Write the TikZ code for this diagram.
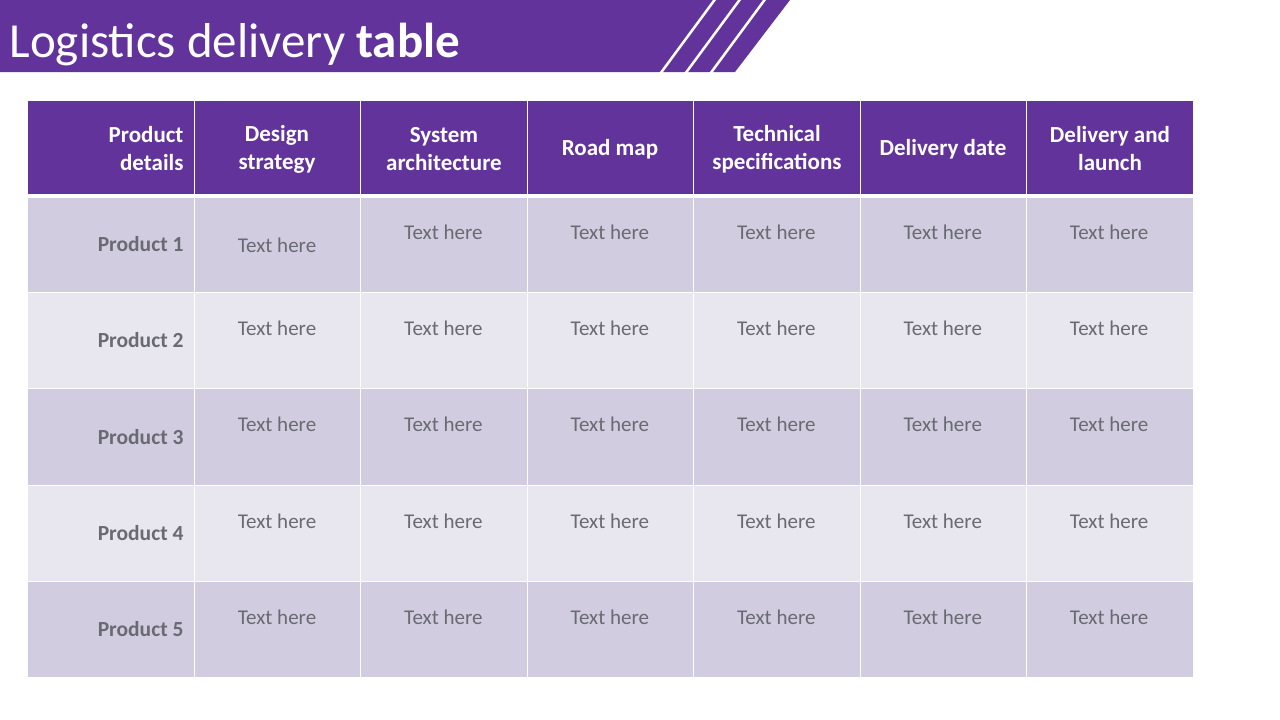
\documentclass[tikz,border=0pt]{standalone}
\usepackage{fontspec}
\setmainfont{Carlito}
\definecolor{pur}{HTML}{61339B}
\definecolor{rowA}{HTML}{D1CCE0}
\definecolor{rowB}{HTML}{E8E6EE}
\definecolor{txt}{HTML}{6A6A72}
\begin{document}
\begin{tikzpicture}[x=1pt,y=-1pt,
  hdr/.style={font=\fontsize{23}{28}\selectfont\bfseries,text=white,align=center},
  cell/.style={font=\fontsize{21}{24}\selectfont,text=txt},
  prod/.style={font=\fontsize{21.5}{24}\selectfont\bfseries,text=txt,anchor=east}]
\useasboundingbox (0,0) rectangle (1280,720);
\fill[white] (0,0) rectangle (1280,720);
% banner
\fill[pur] (0,0) -- (790,0) -- (735,72) -- (0,72) -- cycle;
\foreach \d in {0,25,50}{\draw[white,line width=2.5pt] (660+\d,74) -- (716+\d,-2);}
\fill[white] (0,74) rectangle (659,80);
\node[anchor=west,text=white,font=\fontsize{49}{54}\selectfont] (title) at (6,45) {Logistics delivery \textbf{table}};
% table
\fill[pur] (28,101) rectangle (1193,194);
\fill[rowA] (28,198) rectangle (1193,292);
\fill[rowB] (28,292) rectangle (1193,388);
\fill[rowA] (28,388) rectangle (1193,485);
\fill[rowB] (28,485) rectangle (1193,581);
\fill[rowA] (28,581) rectangle (1193,677);
\foreach \i in {1,...,6}{\draw[white,line width=1pt] ({28+\i*166.43},101) -- ({28+\i*166.43},677);}
\foreach \y in {196,292,388,485,581}{\draw[white,line width=1pt] (28,\y) -- (1193,\y);}
\fill[white] (28,194) rectangle (1193,198);
% headers
\node[hdr,anchor=east,align=right] (h0) at (187,149) {Product\\details};
\node[hdr] (h1) at (277,149) {Design\\strategy};
\node[hdr] (h2) at (444,149) {System\\architecture};
\node[hdr] (h3) at (610,149) {Road map};
\node[hdr] (h4) at (777,149) {Technical\\specifications};
\node[hdr] (h5) at (943,149) {Delivery date};
\node[hdr] (h6) at (1110,149) {Delivery and\\launch};
% product labels
\foreach \r/\y in {1/244,2/340,3/437,4/533,5/629}{\node[prod] (p\r) at (187,\y) {Product \r};}
% cells
\node[cell] (c11) at (277,245) {Text here};
\foreach \c in {2,...,6}{\node[cell] (c1\c) at ({277+(\c-1)*166.43},232) {Text here};}
\foreach \r/\y in {2/328,3/424,4/521,5/617}{
  \foreach \c in {1,...,6}{\node[cell] (c\r\c) at ({277+(\c-1)*166.43},\y) {Text here};}}
\end{tikzpicture}
\end{document}
